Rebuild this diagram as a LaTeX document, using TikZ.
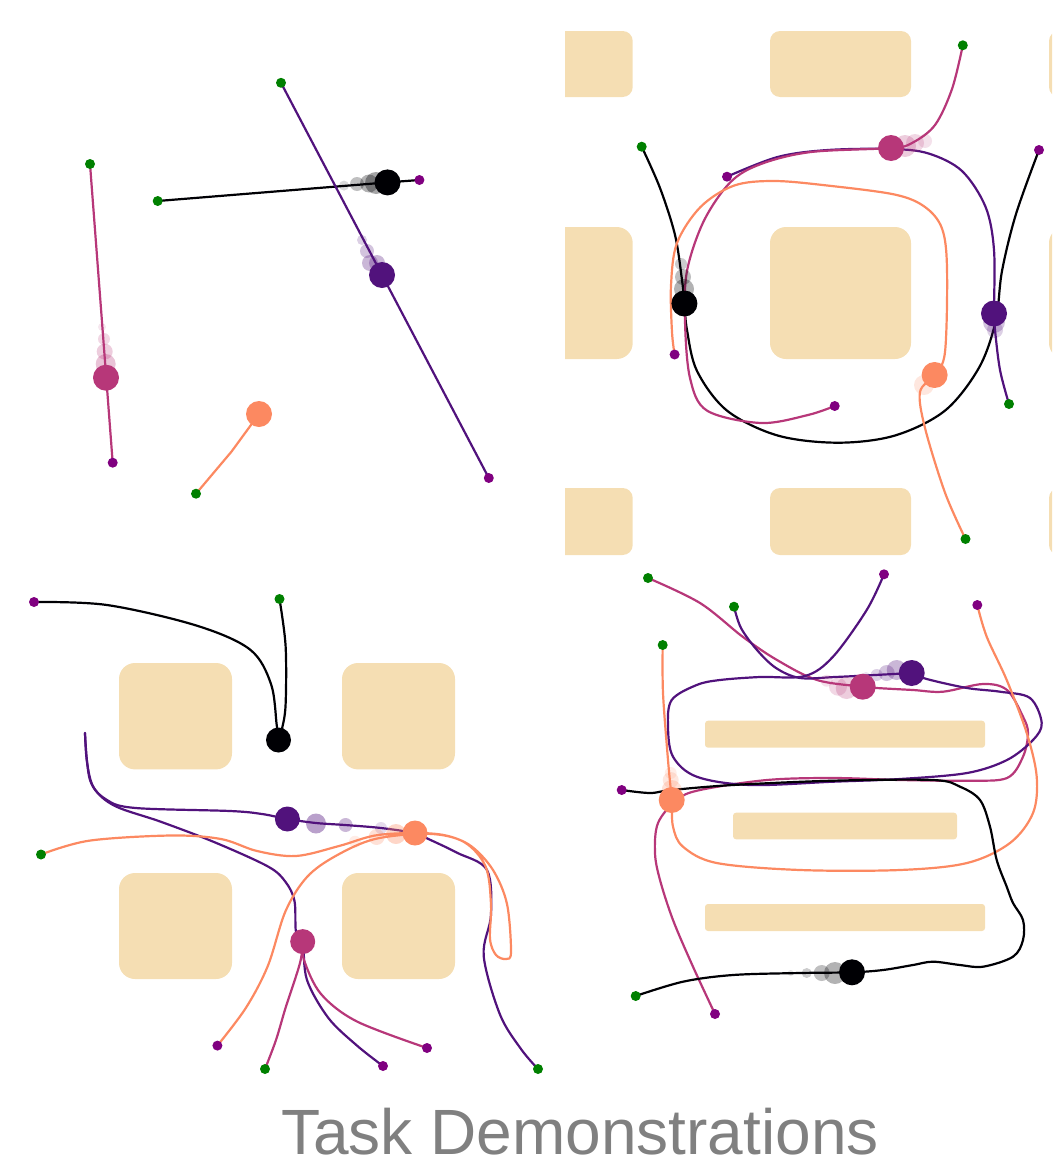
\documentclass[tikz,border=0pt]{standalone}
\usepackage{fontspec}
\setmainfont{Liberation Sans}
\definecolor{cblack}{HTML}{000004}
\definecolor{cpurple}{HTML}{51127C}
\definecolor{cmag}{HTML}{B73779}
\definecolor{corange}{HTML}{FC8961}
\definecolor{cstart}{HTML}{008000}
\definecolor{cend}{HTML}{800080}
\definecolor{cwheat}{HTML}{F5DEB3}
\definecolor{ctitle}{HTML}{808080}
\tikzset{
  obst/.style={fill=cwheat, draw=none},
  traj/.style={line width=2.2pt, line join=round, line cap=round},
  sm/.style={smooth, tension=0.55},
  startdot/.style={fill=cstart},
  enddot/.style={fill=cend},
}
\begin{document}
\begin{tikzpicture}[x=1pt,y=-1pt]
\useasboundingbox (0,0) rectangle (1052,1175);

% ================= Panel 1 =================
\draw[traj, cmag] (90,164) -- (112.7,462.7);
\draw[traj, cblack] (157.7,201) -- (387.5,182.4) -- (419.4,180);
\draw[traj, cpurple] (281,82.8) -- (488.8,478);
\draw[traj, corange] (196,493.7) -- (231.5,451.6) -- (259,414);
\foreach \p in {(90,164),(157.7,201),(281,82.8),(196,493.7)} \fill[startdot] \p circle (5);
\foreach \p in {(112.7,462.7),(419.4,180),(488.8,478)} \fill[enddot] \p circle (5);
% ghosts
\fill[cmag, opacity=.12] (102,327) circle (4);
\fill[cmag, opacity=.2] (104,339) circle (6);
\fill[cmag, opacity=.25] (104.7,351.6) circle (8);
\fill[cmag, opacity=.3] (105.7,364) circle (10);
\fill[cpurple, opacity=.2] (362,240) circle (5);
\fill[cpurple, opacity=.25] (367,251) circle (7);
\fill[cpurple, opacity=.3] (370,263) circle (8);
\fill[cpurple, opacity=.3] (377,263) circle (8);
\fill[cblack, opacity=.15] (344,185.6) circle (5);
\fill[cblack, opacity=.25] (357,184) circle (7);
\fill[cblack, opacity=.3] (369,183.5) circle (9);
\fill[cblack, opacity=.35] (376,183) circle (11);
% dots
\fill[cmag] (106,377.7) circle (13);
\fill[cblack] (387.5,182.4) circle (13);
\fill[cpurple] (382,275) circle (13);
\fill[corange] (259,414) circle (13);

% ================= Panel 2 =================
\begin{scope}
\clip (565,0) rectangle (1052,560);
\foreach \y/\h in {31/97, 488/555} {
  \fill[obst, rounded corners=10] (500,\y) rectangle (632.7,\h);
  \fill[obst, rounded corners=10] (770,\y) rectangle (911,\h);
  \fill[obst, rounded corners=10] (1049,\y) rectangle (1190,\h);
}
\fill[obst, rounded corners=16] (500,227) rectangle (632.7,359);
\fill[obst, rounded corners=16] (770,227) rectangle (911,359);
\fill[obst, rounded corners=16] (1049,227) rectangle (1190,359);
\end{scope}
\draw[traj, cblack] plot[sm] coordinates {(641.7,146.7) (660,188) (675,235) (682,280) (684.4,303.5) (687,330) (697,371) (727,410.6) (777.6,435.5) (838,442.7) (895,435.5) (945,410.6) (979,367.7) (995.7,321) (1002,271) (1016,214) (1039,150)};
\draw[traj, cpurple] plot[sm] coordinates {(1009,404) (1000,370) (995,330) (994,313.5) (994,250) (985.6,207) (962,171) (928.6,153.5) (891.7,149) (828,150) (777.6,157) (727,176.7)};
\draw[traj, cmag] plot[sm] coordinates {(962.8,45.3) (952,89) (935,125) (912,143) (891,148) (811,152) (761,164) (730.6,182) (703.8,221) (687,271) (685,321) (690,378) (707,410.6) (761,423) (808,415) (834.7,406)};
\draw[traj, corange] plot[sm] coordinates {(965.5,539) (945,492.7) (925,428) (920,392) (934.6,375) (945,352) (947,268) (942,228.5) (925,207) (895,194.6) (828,185.6) (774,181) (734,185.6) (700.5,207) (677,243) (671,285.6) (672,332) (674.6,354.5)};
\foreach \p in {(641.7,146.7),(1009,404),(962.8,45.3),(965.5,539)} \fill[startdot] \p circle (5);
\foreach \p in {(1039,150),(727,176.7),(834.7,406),(674.6,354.5)} \fill[enddot] \p circle (5);
\fill[cblack, opacity=.2] (681,264) circle (6);
\fill[cblack, opacity=.25] (683,277) circle (8);
\fill[cblack, opacity=.3] (684,289) circle (10);
\fill[cmag, opacity=.15] (925,141) circle (7);
\fill[cmag, opacity=.2] (915,143) circle (9);
\fill[cmag, opacity=.25] (905,146) circle (11);
\fill[cpurple, opacity=.2] (995,330) circle (8);
\fill[cpurple, opacity=.25] (994,322) circle (11);
\fill[corange, opacity=.2] (924,385) circle (10);
\fill[cblack] (684.4,303.5) circle (13);
\fill[cpurple] (994,313.5) circle (13);
\fill[cmag] (891,148) circle (13);
\fill[corange] (934.6,375) circle (13);

% ================= Panel 3 =================
\fill[obst, rounded corners=16] (119,663) rectangle (232,769.4);
\fill[obst, rounded corners=16] (342,663) rectangle (455,769.4);
\fill[obst, rounded corners=16] (119,873) rectangle (232,979);
\fill[obst, rounded corners=16] (342,873) rectangle (455,979);
\draw[traj, cblack] plot[sm] coordinates {(34,602) (107,605) (196,625.4) (250,649.5) (271,684) (276.7,725) (278.5,740)};
\draw[traj, cblack] plot[sm] coordinates {(279.5,599) (285.6,646) (285.6,704.6) (282,728.8) (278.5,740)};
\draw[traj, cpurple] plot[sm] coordinates {(538,1069) (521,1049) (500,1014.6) (483.7,956) (491,914.7) (487,870) (457,852.7) (428.4,839) (414,833) (381,828) (345,825) (316,823) (287.4,819) (262,814) (230,811) (135.7,808) (107,800) (90,780) (85,733)};
\draw[traj, cpurple] plot[sm] coordinates {(85,733) (87,762) (94,788) (115,806) (160.7,821.7) (214,842) (268,866.5) (285.6,882) (294.5,901) (296,932) (302.7,941.6) (307,980) (328.4,1018) (357,1045.6) (383,1066)};
\draw[traj, cmag] plot[sm] coordinates {(265,1069) (276,1040) (285.6,1007.7) (300,963) (302.7,941.6)};
\draw[traj, cmag] plot[sm] coordinates {(302.7,941.6) (304,960) (321,994) (357,1021.5) (427,1048)};
\draw[traj, corange] plot[sm] coordinates {(41,854.5) (89,840.7) (171,835.5) (221,839) (257,851) (296,856) (339,846) (375,835.5) (415,833) (446,835.5) (471,846) (493,870) (507,904) (511,952) (506,959) (496,955) (490,939) (491,904.4) (485.6,866.5) (464,842) (428.4,833.8) (375,839) (335.6,856) (307,877) (285.6,911) (267.8,966) (246,1007.7) (217.4,1045.6)};
\foreach \p in {(279.5,599),(538,1069),(265,1069),(41,854.5)} \fill[startdot] \p circle (5);
\foreach \p in {(34,602),(383,1066),(427,1048),(217.4,1045.6)} \fill[enddot] \p circle (5);
\fill[cpurple, opacity=.15] (381,828) circle (6);
\fill[cpurple, opacity=.3] (345.6,825) circle (7);
\fill[cpurple, opacity=.4] (316,823.5) circle (10);
\fill[corange, opacity=.15] (355,841.7) circle (6);
\fill[corange, opacity=.25] (376.6,837) circle (8);
\fill[corange, opacity=.35] (396,834) circle (10);
\fill[cblack] (278.5,740) circle (12.5);
\fill[cpurple] (287.4,819) circle (12.5);
\fill[cmag] (302.7,941.6) circle (12.5);
\fill[corange] (415,833) circle (12.5);

% ================= Panel 4 =================
\fill[obst, rounded corners=3] (705,720.7) rectangle (985,747.7);
\fill[obst, rounded corners=3] (733,812.7) rectangle (957,839.3);
\fill[obst, rounded corners=3] (705,904) rectangle (985,931);
\draw[traj, cmag] plot[sm] coordinates {(648,578) (700,603) (743,637) (777,660) (817,680) (862.7,686.7) (876.7,688) (913,690) (943,691.7) (983,684) (1007,690) (1023,716.7) (1028,733) (1023,756.7) (1007,778) (967,780.7) (900,780) (833,778) (767,780) (700,790) (676.7,800) (658,823) (655,853) (660,880) (673,920) (693,966.7) (715,1014)};
\draw[traj, cpurple] plot[sm] coordinates {(734,606.7) (741,628) (757,650) (776,668) (800,678) (835,677) (875,675) (911.7,673)};
\draw[traj, cpurple] plot[sm] coordinates {(884,574.3) (866.7,610) (833,656.7) (805,676) (760,677) (720,680) (696.7,685) (671.7,700) (668,726.7) (673,756.7) (696.7,776.7) (750,785) (833,781.7) (900,779) (967,773) (1007,760) (1033,740) (1041.7,723) (1030,698) (1000,691.7) (967,688) (926.7,679) (911.7,673)};
\draw[traj, corange] plot[sm] coordinates {(662.7,645) (663,693) (668,760) (671.7,800) (673,826.7) (683,846.7) (716.7,863) (800,870) (900,870) (967,863) (1010,843) (1033,813) (1036.7,776.7) (1026.7,733) (1006.7,680) (986.7,636.7) (977.3,605)};
\draw[traj, cblack] plot[sm] coordinates {(621.7,790) (650,793) (671.7,790) (733,785) (833,780.7) (933,780) (960,786.7) (980,800) (990,826.7) (996.7,860) (1006.7,886.7) (1013,903) (1023,920) (1023,940) (1013,956.7) (983,966.7) (960,965) (933,961.7) (913,965) (883,970) (852,972.3) (800,973) (733,975) (683,981.7) (635.7,996)};
\foreach \p in {(648,578),(734,606.7),(662.7,645),(635.7,996)} \fill[startdot] \p circle (5);
\foreach \p in {(715,1014),(884,574.3),(977.3,605),(621.7,790)} \fill[enddot] \p circle (5);
\fill[cpurple, opacity=.12] (866,676) circle (4);
\fill[cpurple, opacity=.2] (876.7,675) circle (6);
\fill[cpurple, opacity=.25] (886.7,673) circle (8);
\fill[cpurple, opacity=.3] (896.7,670) circle (10);
\fill[cmag, opacity=.15] (826.7,680.7) circle (6);
\fill[cmag, opacity=.2] (838,686.7) circle (9);
\fill[cmag, opacity=.25] (846.7,688) circle (11);
\fill[corange, opacity=.15] (670.7,773) circle (6);
\fill[corange, opacity=.2] (670.7,780) circle (8);
\fill[corange, opacity=.25] (671.7,790) circle (10);
\fill[cblack, opacity=.1] (790.7,973) circle (3);
\fill[cblack, opacity=.2] (806.7,973) circle (5);
\fill[cblack, opacity=.25] (821.7,973) circle (8);
\fill[cblack, opacity=.3] (835,973) circle (11);
\fill[cpurple] (911.7,673) circle (13);
\fill[cmag] (862.7,686.7) circle (13);
\fill[corange] (671.7,800) circle (13);
\fill[cblack] (852,972.3) circle (13);

% ================= Title =================
\node[anchor=base, text=ctitle, inner sep=0pt, font=\fontsize{64}{70}\selectfont] (title) at (580,1154.3) {Task Demonstrations};
\end{tikzpicture}
\end{document}
